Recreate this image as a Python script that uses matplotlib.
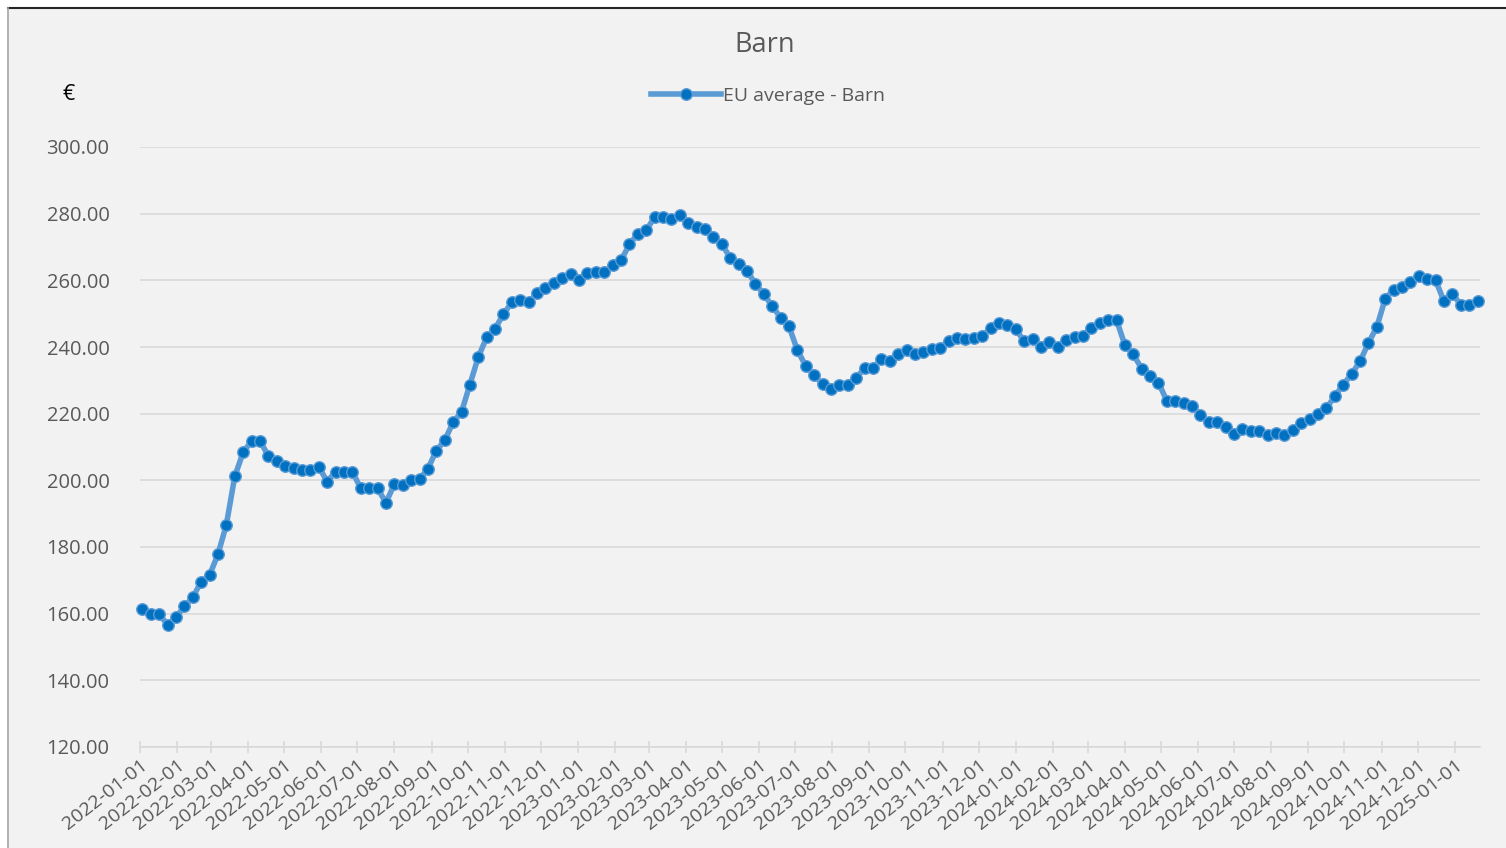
import numpy as np
import pandas as pd
import matplotlib
matplotlib.use('Agg')
import matplotlib.pyplot as plt
import matplotlib.dates as mdates
from matplotlib.patches import Rectangle
from matplotlib.lines import Line2D

# weekly EU average price - Barn (EUR)
start_date = '2022-01-03'
barn_prices = [
    161.4, 159.9, 159.9, 156.6, 158.9, 162.2, 164.9, 169.6, 171.6, 177.8,
    186.7, 201.2, 208.4, 211.8, 211.8, 207.4, 205.9, 204.2, 203.6, 203.1,
    203.1, 204.1, 199.6, 202.6, 202.6, 202.6, 197.6, 197.6, 197.6, 193.3,
    198.8, 198.6, 200.0, 200.3, 203.5, 208.9, 212.0, 217.4, 220.5, 228.7,
    237.0, 242.9, 245.5, 249.9, 253.4, 254.2, 253.4, 256.2, 257.7, 259.2,
    260.8, 261.8, 260.1, 262.3, 262.5, 262.5, 264.5, 266.0, 270.8, 274.0,
    275.0, 279.0, 279.0, 278.5, 279.5, 277.3, 276.1, 275.5, 273.0, 270.8,
    266.8, 264.8, 262.8, 259.0, 255.8, 252.3, 248.8, 246.2, 239.0, 234.3,
    231.6, 228.8, 227.3, 228.6, 228.5, 230.8, 233.6, 233.8, 236.3, 235.8,
    238.0, 239.0, 237.8, 238.6, 239.3, 239.8, 241.8, 242.6, 242.5, 242.8,
    243.3, 245.6, 247.3, 246.5, 245.3, 241.8, 242.3, 240.1, 241.5, 240.1,
    242.2, 243.0, 243.3, 245.6, 247.3, 248.1, 248.1, 240.6, 237.8, 233.5,
    231.3, 229.3, 223.8, 223.8, 223.3, 222.3, 219.5, 217.5, 217.6, 216.1,
    214.0, 215.3, 214.8, 214.8, 213.6, 214.1, 213.6, 215.1, 217.1, 218.4,
    219.9, 221.7, 225.2, 228.7, 231.9, 235.7, 241.2, 246.0, 254.5, 257.2,
    258.0, 259.5, 261.4, 260.4, 260.0, 253.7, 255.9, 252.7, 252.7, 253.7,
]
dates = pd.date_range(start_date, periods=len(barn_prices), freq='7D')
y_ticks = [120, 140, 160, 180, 200, 220, 240, 260, 280, 300]

grey_txt = '#595959'
line_col = '#5B9BD5'
marker_col = '#0070C0'

fig = plt.figure(figsize=(15.06, 8.48), dpi=100)
fig.patch.set_facecolor('white')
# chart area background with borders
fig.patches.append(Rectangle((8/1506, 0), 1 - 8/1506, 1 - 8/848, transform=fig.transFigure,
                             facecolor='#F2F2F2', edgecolor='none', zorder=-10))
fig.lines.append(Line2D([8/1506, 1], [1 - 8/848, 1 - 8/848], transform=fig.transFigure,
                        color='#262626', lw=1.5, zorder=-9))
fig.lines.append(Line2D([8/1506, 8/1506], [0, 1 - 8/848], transform=fig.transFigure,
                        color='#A6A6A6', lw=1.2, zorder=-9))

ax = fig.add_axes([140/1506, 101/848, 1340/1506, 600/848])
ax.set_facecolor('none')

ax.plot(dates, barn_prices, color=line_col, lw=4, marker='o', ms=8.3,
        mfc=marker_col, mec=line_col, mew=1.0, label='EU average - Barn', zorder=3,
        clip_on=False)

ax.set_ylim(120, 300)
ax.set_yticks(y_ticks)
ax.set_yticklabels(['%.2f' % v for v in y_ticks])
ax.set_xlim(pd.Timestamp('2022-01-01'), dates[-1] + pd.Timedelta(days=2))
ax.xaxis.set_major_locator(mdates.MonthLocator())
ax.xaxis.set_major_formatter(mdates.DateFormatter('%Y-%m-%d'))

ax.grid(axis='y', color='#D9D9D9', lw=1.2)
ax.set_axisbelow(True)
for s in ['top', 'right', 'left']:
    ax.spines[s].set_visible(False)
ax.spines['bottom'].set_color('#D9D9D9')
ax.spines['bottom'].set_linewidth(1.2)

ax.tick_params(axis='y', length=0, pad=22, labelsize=14.5, labelcolor=grey_txt)
ax.tick_params(axis='x', direction='inout', length=9, width=1.2, color='#D9D9D9',
               labelsize=14, labelcolor=grey_txt, pad=2)
for lab in ax.get_yticklabels():
    lab.set_fontfamily('Open Sans')
for lab in ax.get_xticklabels():
    lab.set_fontfamily('Open Sans')
    lab.set_rotation(38)
    lab.set_ha('right')
    lab.set_va('top')
    lab.set_rotation_mode('anchor')

fig.text(765/1506, 1 - 45/848, 'Barn', ha='center', va='center', fontsize=19.5,
         color=grey_txt, family='Open Sans')
fig.text(69/1506, 1 - 95/848, '€', ha='center', va='center', fontsize=15.5,
         color='black', family='Open Sans')
ax.legend(loc='center', bbox_to_anchor=(768/1506, 1 - 96/848), bbox_transform=fig.transFigure,
          frameon=False, labelcolor=grey_txt, handlelength=3.6,
          handletextpad=0.15, prop={'family': 'Open Sans', 'size': 14})

fig.savefig('out.png', dpi=100, facecolor=fig.get_facecolor())
